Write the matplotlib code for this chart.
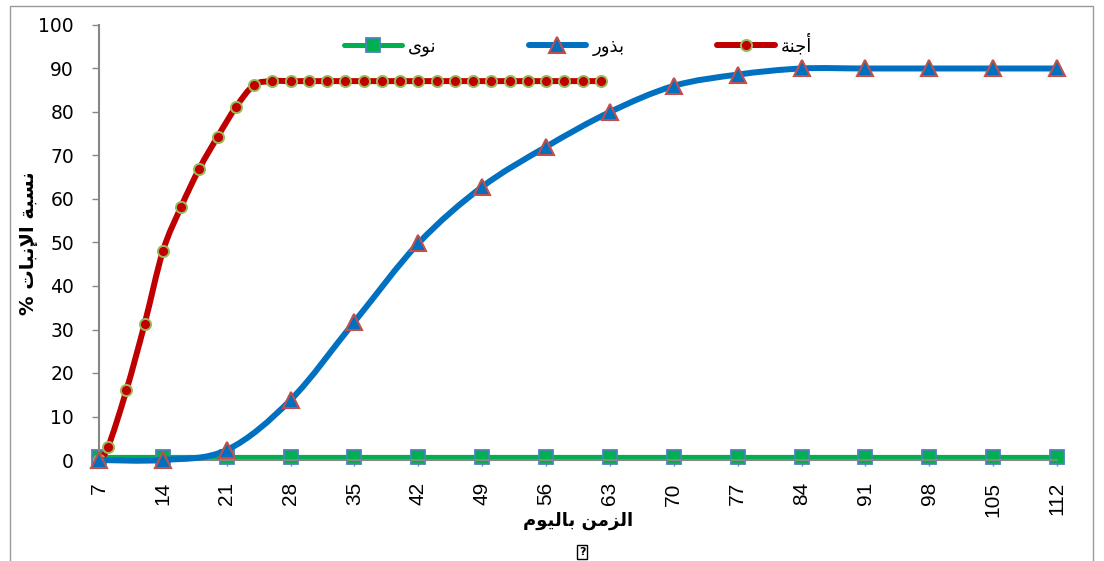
import numpy as np
import matplotlib
matplotlib.use("Agg")
import matplotlib.pyplot as plt
from matplotlib.path import Path
from matplotlib.patches import PathPatch, Rectangle
from matplotlib.lines import Line2D

# ---- data -------------------------------------------------------------
days_embryo = [7, 8, 10, 12, 14, 16, 18, 20, 22, 24, 26, 28, 30, 32, 34, 36,
               38, 40, 42, 44, 46, 48, 50, 52, 54, 56, 58, 60, 62]
germ_embryo = [0, 3, 16, 31.3, 48, 58.2, 67, 74.3, 81.1, 86.2, 87.1, 87.1, 87.1,
               87.1, 87.1, 87.1, 87.1, 87.1, 87.1, 87.1, 87.1, 87.1, 87.1, 87.1,
               87.1, 87.1, 87.1, 87.1, 87.1]

days_weekly = [7, 14, 21, 28, 35, 42, 49, 56, 63, 70, 77, 84, 91, 98, 105, 112]
germ_seeds = [0, 0, 2.3, 13.8, 31.8, 49.8, 62.8, 72, 80, 86, 88.6, 90, 90, 90, 90, 90]
germ_kernels = [0.6, 0.6, 0.6, 0.6, 0.6, 0.6, 0.6, 0.6, 0.6, 0.6, 0.6, 0.6, 0.6,
                0.6, 0.6, 0.6]

label_kernels = "نوى"
label_seeds = "بذور"
label_embryo = "أجنة"
xlabel_text = "الزمن باليوم"
ylabel_text = "نسبة الإنبات %"

x_ticks = [7, 14, 21, 28, 35, 42, 49, 56, 63, 70, 77, 84, 91, 98, 105, 112]
y_ticks = [0, 10, 20, 30, 40, 50, 60, 70, 80, 90, 100]

# ---- Arabic shaping (contextual forms + visual order) -----------------
FORMS = {  # isolated, final, initial, medial
    'ا': ('\uFE8D', '\uFE8E', None, None),
    'أ': ('\uFE83', '\uFE84', None, None),
    'إ': ('\uFE87', '\uFE88', None, None),
    'ب': ('\uFE8F', '\uFE90', '\uFE91', '\uFE92'),
    'ة': ('\uFE93', '\uFE94', None, None),
    'ت': ('\uFE95', '\uFE96', '\uFE97', '\uFE98'),
    'ج': ('\uFE9D', '\uFE9E', '\uFE9F', '\uFEA0'),
    'ذ': ('\uFEAB', '\uFEAC', None, None),
    'ر': ('\uFEAD', '\uFEAE', None, None),
    'ز': ('\uFEAF', '\uFEB0', None, None),
    'س': ('\uFEB1', '\uFEB2', '\uFEB3', '\uFEB4'),
    'ل': ('\uFEDD', '\uFEDE', '\uFEDF', '\uFEE0'),
    'م': ('\uFEE1', '\uFEE2', '\uFEE3', '\uFEE4'),
    'ن': ('\uFEE5', '\uFEE6', '\uFEE7', '\uFEE8'),
    'و': ('\uFEED', '\uFEEE', None, None),
    'ى': ('\uFEEF', '\uFEF0', None, None),
    'ي': ('\uFEF1', '\uFEF2', '\uFEF3', '\uFEF4'),
}
LAM_ALEF = {'ا': ('\uFEFB', '\uFEFC'), 'أ': ('\uFEF7', '\uFEF8'),
            'إ': ('\uFEF9', '\uFEFA')}


def shape(text):
    out = []
    prev_joins = False
    i = 0
    while i < len(text):
        c = text[i]
        nxt = text[i + 1] if i + 1 < len(text) else None
        if c == 'ل' and nxt in LAM_ALEF:
            iso, fin = LAM_ALEF[nxt]
            out.append(fin if prev_joins else iso)
            prev_joins = False
            i += 2
            continue
        if c not in FORMS:
            out.append(c)
            prev_joins = False
            i += 1
            continue
        iso, fin, ini, med = FORMS[c]
        joins_next = ini is not None and nxt in FORMS
        if prev_joins and joins_next:
            g = med
        elif prev_joins:
            g = fin
        elif joins_next:
            g = ini
        else:
            g = iso
        out.append(g)
        prev_joins = joins_next
        i += 1
    return ''.join(reversed(out))


def smooth_path(x, y):
    """Bezier curve through the points (Catmull-Rom style tangents)."""
    pts = np.column_stack([x, y]).astype(float)
    n = len(pts)
    verts = [pts[0]]
    codes = [Path.MOVETO]
    for i in range(n - 1):
        p0 = pts[i - 1] if i > 0 else pts[i]
        p1, p2 = pts[i], pts[i + 1]
        p3 = pts[i + 2] if i + 2 < n else pts[i + 1]
        verts += [p1 + (p2 - p0) / 6, p2 - (p3 - p1) / 6, p2]
        codes += [Path.CURVE4] * 3
    return Path(verts, codes)


# ---- styles -----------------------------------------------------------
GREEN, BLUE, RED = "#00B050", "#0070C0", "#C00000"
AXIS_GRAY = "#868686"

W, H = 1104, 561
fig = plt.figure(figsize=(W / 100, H / 100), dpi=100)
ax = fig.add_axes([99 / W, 1 - 460 / H, (1057 - 99) / W, (460 - 25) / H])

series = [
    dict(x=days_weekly, y=germ_kernels, color=GREEN, lw=3.6, marker="s", ms=9.5,
         mfc=GREEN, mec="#4F81BD", mew=1.3, z=2, label=label_kernels),
    dict(x=days_embryo, y=germ_embryo, color=RED, lw=4.3, marker="o", ms=8,
         mfc=RED, mec="#9BBB59", mew=1.4, z=3, label=label_embryo),
    dict(x=days_weekly, y=germ_seeds, color=BLUE, lw=4.3, marker="^", ms=11,
         mfc=BLUE, mec="#C0504D", mew=1.5, z=4, label=label_seeds),
]

handles = {}
for s in series:
    ax.add_patch(PathPatch(smooth_path(s["x"], s["y"]), fill=False,
                           edgecolor=s["color"], lw=s["lw"], zorder=s["z"],
                           capstyle="round", joinstyle="round", clip_on=False))
    ax.plot(s["x"], s["y"], ls="none", marker=s["marker"], ms=s["ms"],
            mfc=s["mfc"], mec=s["mec"], mew=s["mew"], zorder=s["z"] + 0.5,
            clip_on=False)
    handles[s["label"]] = Line2D([], [], color=s["color"], lw=s["lw"],
                                 marker=s["marker"], ms=s["ms"], mfc=s["mfc"],
                                 mec=s["mec"], mew=s["mew"],
                                 solid_capstyle="round")

ax.set_xlim(7, 112)
ax.set_ylim(0, 100)
ax.set_xticks(x_ticks)
ax.set_xticklabels([str(v) for v in x_ticks], rotation=90,
                   fontfamily="Liberation Sans", fontsize=15)
ax.set_yticks(y_ticks)
ax.set_yticklabels([str(v) for v in y_ticks], fontfamily="DejaVu Sans",
                   fontsize=13.5)
ax.tick_params(axis="y", direction="out", length=5, width=1, color=AXIS_GRAY,
               pad=13)
ax.tick_params(axis="x", direction="out", length=4, width=1, color=AXIS_GRAY,
               pad=12)
for side in ("top", "right"):
    ax.spines[side].set_visible(False)
for side in ("left", "bottom"):
    ax.spines[side].set_color(AXIS_GRAY)
    ax.spines[side].set_linewidth(1.5)

# axis titles
fig.text(29 / W, 1 - 243 / H, shape(ylabel_text), rotation=90, ha="center",
         va="center", fontsize=14, fontweight="bold", fontfamily="DejaVu Sans")
fig.text(578 / W, 1 - 521 / H, shape(xlabel_text), ha="center", va="center",
         fontsize=13, fontweight="bold", fontfamily="DejaVu Sans")
fig.text(582 / W, 1 - 552 / H, "?", ha="center", va="center", fontsize=8,
         fontweight="bold",
         bbox=dict(boxstyle="square,pad=0.15", fc="white", ec="black", lw=1))

# legend
order = [label_kernels, label_seeds, label_embryo]
fig.legend([handles[k] for k in order], [shape(k) for k in order],
           loc="center", bbox_to_anchor=(578 / W, 1 - 45 / H), ncol=3,
           frameon=False, handlelength=3.2, handletextpad=0.35,
           columnspacing=5.1, prop={"family": "DejaVu Sans", "size": 13})

# chart border
fig.add_artist(Rectangle((10 / W, -0.05), (1093 - 10) / W, 1.05 - 6 / H,
                         transform=fig.transFigure, fill=False,
                         edgecolor="#9A9A9A", lw=1))

fig.savefig("out.png", dpi=100)
